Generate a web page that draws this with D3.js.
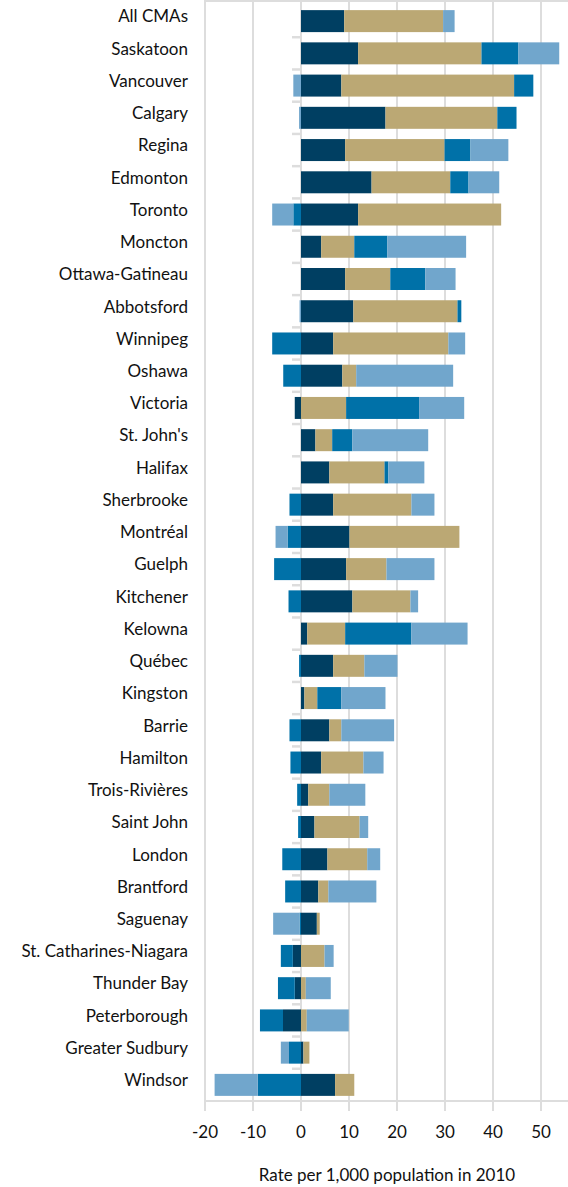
<!DOCTYPE html>
<html lang="en">
<head>
<meta charset="UTF-8">
<title>Rate per 1,000 population in 2010</title>
<script src="https://d3js.org/d3.v7.min.js"></script>
<style>
  body { margin: 0; background: #fff; }
  text { font-family: Lato, "Open Sans", sans-serif; fill: #111; }
</style>
</head>
<body>
<div id="chart"></div>
<script>
// categories, top to bottom
var cities = ["All CMAs", "Saskatoon", "Vancouver", "Calgary", "Regina", "Edmonton", "Toronto",
  "Moncton", "Ottawa-Gatineau", "Abbotsford", "Winnipeg", "Oshawa", "Victoria", "St. John's",
  "Halifax", "Sherbrooke", "Montréal", "Guelph", "Kitchener", "Kelowna", "Québec", "Kingston",
  "Barrie", "Hamilton", "Trois-Rivières", "Saint John", "London", "Brantford", "Saguenay",
  "St. Catharines-Niagara", "Thunder Bay", "Peterborough", "Greater Sudbury", "Windsor"];

// four components, values (same order as cities)
var navy = [9.0, 11.9, 8.4, 17.6, 9.2, 14.7, 11.9, 4.2, 9.2, 10.9, 6.7, 8.6, -1.3, 3.0,
  5.9, 6.7, 10.1, 9.4, 10.7, 1.3, 6.7, 0.7, 5.9, 4.2, 1.5, 2.8, 5.5, 3.6, 3.3,
  -1.7, -1.3, -3.75, 0.5, 7.1];
var tan = [20.6, 25.7, 36.0, 23.3, 20.7, 16.4, 29.8, 6.9, 9.4, 21.7, 24.0, 2.9, 9.4, 3.5,
  11.5, 16.3, 22.9, 8.4, 12.1, 7.9, 6.5, 2.7, 2.5, 8.8, 4.4, 9.4, 8.3, 2.1, 0.6,
  4.9, 1.0, 1.2, 1.25, 4.0];
var blue = [0, 7.7, 4.0, 4.0, 5.4, 3.8, -1.6, 6.9, 7.3, 0.8, -6.0, -3.7, 15.2, 4.2,
  0.8, -2.4, -2.8, -5.6, -2.6, 13.8, -0.4, 5.0, -2.4, -2.2, -0.8, -0.6, -3.9, -3.3, -0.3,
  -2.5, -3.5, -4.8, -2.5, -9.0];
var lightBlue = [2.4, 8.5, -1.6, -0.4, 7.9, 6.4, -4.4, 16.4, 6.3, -0.3, 3.5, 20.2, 9.4, 15.8,
  7.5, 4.8, -2.5, 10.0, 1.6, 11.7, 6.9, 9.2, 11.0, 4.2, 7.5, 1.8, 2.7, 10.0, -5.5,
  1.9, 5.2, 8.75, -1.7, -9.0];

var xTicks = [-20, -10, 0, 10, 20, 30, 40, 50];
var keys = ["navy", "tan", "blue", "lightBlue"];
var colors = ["#003f62", "#bba874", "#0071a8", "#71a6cc"];

var rows = cities.map(function(c, i) {
  return { city: c, navy: navy[i], tan: tan[i], blue: blue[i], lightBlue: lightBlue[i] };
});

var width = 568, height = 1187;
var plotTop = 5, plotBottom = 1101;

var svg = d3.select("#chart").append("svg")
  .attr("width", width)
  .attr("height", height);

var x = d3.scaleLinear().domain([-20, 55]).range([205, 565]);
var y = d3.scaleBand().domain(cities).range([plotTop, plotBottom])
  .paddingInner(0.318).paddingOuter(0.159);

var grid = "#dddddd";

// vertical grid lines + bottom ticks
svg.append("g").selectAll("line")
  .data(xTicks)
  .enter().append("line")
    .attr("x1", function(d) { return x(d); })
    .attr("x2", function(d) { return x(d); })
    .attr("y1", 0)
    .attr("y2", plotBottom + 10)
    .attr("stroke", grid)
    .attr("stroke-width", 2);

// top and bottom frame lines
svg.append("line").attr("x1", x(-20) - 1).attr("x2", width).attr("y1", 1).attr("y2", 1)
  .attr("stroke", grid).attr("stroke-width", 2);
svg.append("line").attr("x1", x(-20) - 1).attr("x2", width).attr("y1", plotBottom).attr("y2", plotBottom)
  .attr("stroke", grid).attr("stroke-width", 2);

// little separators between categories, left of zero
var step = y.step();
svg.append("g").selectAll("line")
  .data(d3.range(1, cities.length))
  .enter().append("line")
    .attr("x1", x(0) - 9)
    .attr("x2", x(0))
    .attr("y1", function(i) { return plotTop + i * step; })
    .attr("y2", function(i) { return plotTop + i * step; })
    .attr("stroke", grid)
    .attr("stroke-width", 2.5);

// stacked bars, diverging around zero
var series = d3.stack().keys(keys).offset(d3.stackOffsetDiverging)(rows);

svg.append("g").selectAll("g")
  .data(series)
  .enter().append("g")
    .attr("fill", function(d, i) { return colors[i]; })
  .selectAll("rect")
  .data(function(d) { return d; })
  .enter().append("rect")
    .attr("x", function(d) { return x(Math.min(d[0], d[1])); })
    .attr("width", function(d) { return Math.abs(x(d[1]) - x(d[0])); })
    .attr("y", function(d) { return y(d.data.city); })
    .attr("height", y.bandwidth());

// category labels
svg.append("g").selectAll("text")
  .data(cities)
  .enter().append("text")
    .attr("x", 188)
    .attr("y", function(d) { return y(d) + y.bandwidth() / 2 - 3; })
    .attr("text-anchor", "end")
    .attr("dominant-baseline", "middle")
    .style("font-size", "17px")
    .text(function(d) { return d; });

// x tick labels
svg.append("g").selectAll("text")
  .data(xTicks)
  .enter().append("text")
    .attr("x", function(d) { return x(d); })
    .attr("y", 1138)
    .attr("text-anchor", "middle")
    .style("font-size", "17px")
    .text(function(d) { return d; });

// axis title
svg.append("text")
  .attr("x", 387)
  .attr("y", 1181)
  .attr("text-anchor", "middle")
  .style("font-size", "17px")
  .text("Rate per 1,000 population in 2010");
</script>
</body>
</html>
